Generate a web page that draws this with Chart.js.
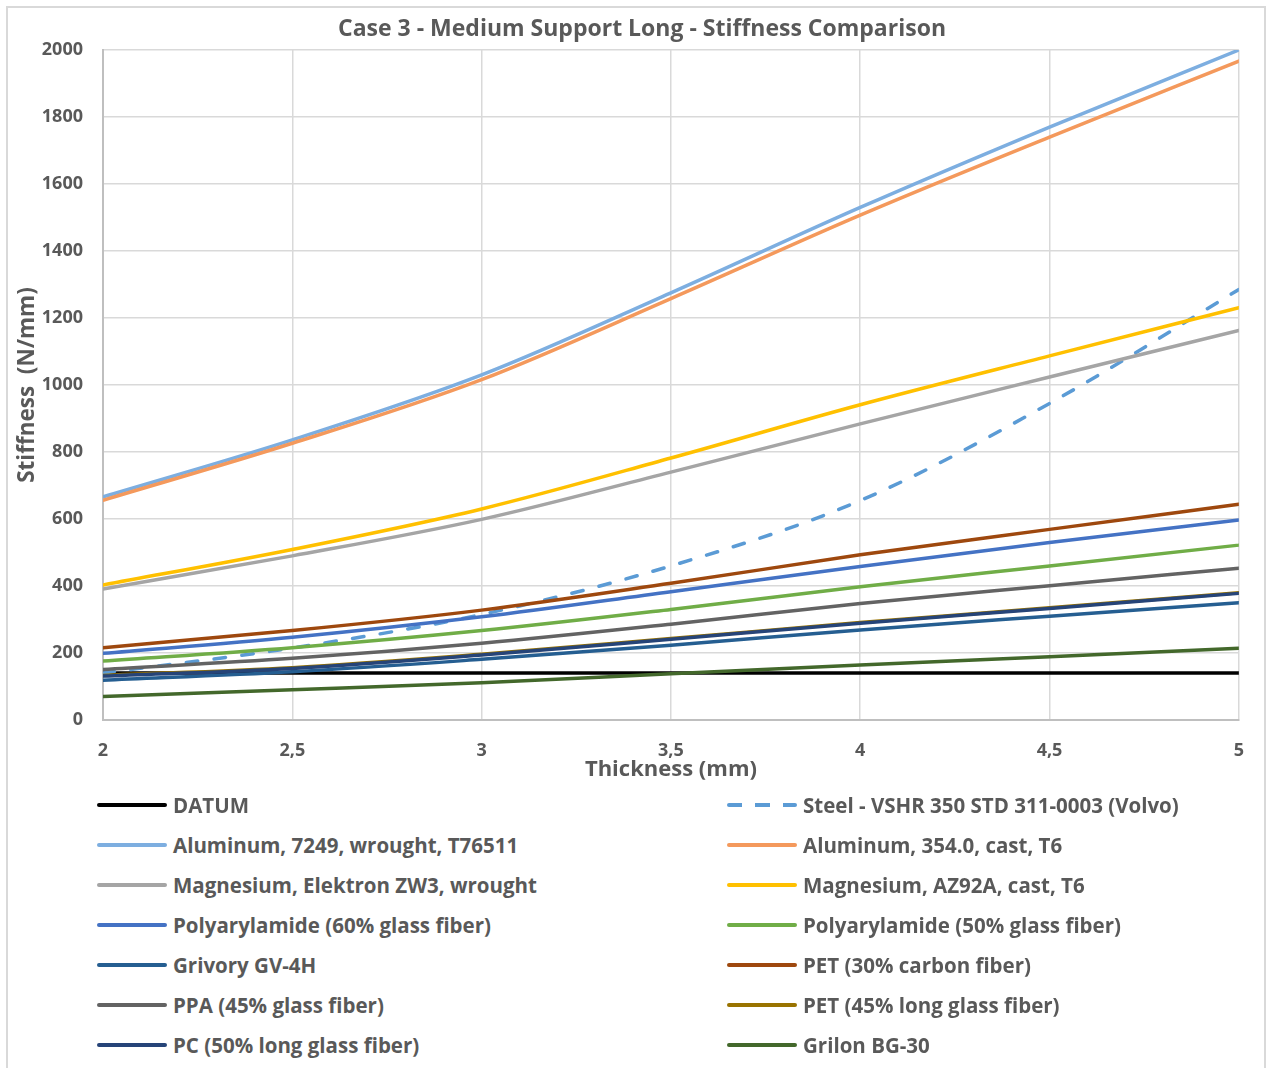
<!DOCTYPE html>
<html>
<head>
<meta charset="utf-8">
<title>Case 3 - Medium Support Long - Stiffness Comparison</title>
<script src="https://cdn.jsdelivr.net/npm/chart.js@4.4.1/dist/chart.umd.min.js"></script>
<style>
  body { margin: 0; background: #fff; }
  #wrap { position: relative; width: 1266px; height: 1068px; overflow: hidden; font-family: "Open Sans", sans-serif; }
  #frame { position: absolute; left: 6px; top: 6px; width: 1256px; height: 1100px; border: 2px solid #d9d9d9; }
  #chart { position: absolute; left: 0; top: 0; }
  .leg-item { position: absolute; height: 40px; display: flex; align-items: center; color: #595959; font-size: 20.5px; font-weight: bold; white-space: nowrap; }
  .leg-line { width: 70px; height: 4px; margin-right: 6px; border-radius: 2px; }
</style>
</head>
<body>
<div id="wrap">
  <div id="frame"></div>
  <canvas id="chart" width="1266" height="790"></canvas>
  <div id="legend"></div>
</div>
<script>
// ============================
// Dados
// ============================
const thickness = [2, 2.5, 3, 3.5, 4, 4.5, 5];
const yTicks = [0, 200, 400, 600, 800, 1000, 1200, 1400, 1600, 1800, 2000];

const datum       = [140, 140, 140, 140, 140, 140, 140];
const steel       = [140, 215, 315, 460, 655, 945, 1285];
const al7249      = [666, 836, 1030, 1275, 1530, 1770, 2000];
const al354       = [656, 826, 1016, 1258, 1507, 1740, 1967];
const mgZW3       = [391, 490, 599, 740, 884, 1024, 1163];
const mgAZ92A     = [403, 509, 630, 782, 941, 1087, 1231];
const poly60      = [199, 247, 308, 383, 458, 530, 597];
const poly50      = [176, 216, 267, 330, 398, 460, 522];
const grivory     = [119, 144, 181, 223, 269, 310, 350];
const pet30cf     = [216, 267, 328, 408, 493, 569, 644];
const ppa45       = [151, 184, 229, 286, 348, 401, 453];
const pet45lgf    = [133, 156, 196, 243, 291, 335, 380];
const pc50lgf     = [131, 154, 194, 241, 289, 333, 378];
const grilon      = [70, 90, 111, 138, 164, 189, 214];

const series = [
  { label: "DATUM", values: datum, color: "#000000" },
  { label: "Steel - VSHR 350 STD 311-0003 (Volvo)", values: steel, color: "#5b9bd5", dash: [11.5, 16.5] },
  { label: "Aluminum, 7249, wrought, T76511", values: al7249, color: "#7daee0" },
  { label: "Aluminum, 354.0, cast, T6", values: al354, color: "#f4995c" },
  { label: "Magnesium, Elektron ZW3, wrought", values: mgZW3, color: "#a5a5a5" },
  { label: "Magnesium, AZ92A, cast, T6", values: mgAZ92A, color: "#ffc000" },
  { label: "Polyarylamide (60% glass fiber)", values: poly60, color: "#4472c4" },
  { label: "Polyarylamide (50% glass fiber)", values: poly50, color: "#70ad47" },
  { label: "Grivory GV-4H", values: grivory, color: "#255e91" },
  { label: "PET (30% carbon fiber)", values: pet30cf, color: "#9e480e" },
  { label: "PPA (45% glass fiber)", values: ppa45, color: "#636363" },
  { label: "PET (45% long glass fiber)", values: pet45lgf, color: "#997300" },
  { label: "PC (50% long glass fiber)", values: pc50lgf, color: "#264478" },
  { label: "Grilon BG-30", values: grilon, color: "#43682b" }
];

const FONT = "'Open Sans', sans-serif";
const GREY_TEXT = "#595959";

// ============================
// Legenda HTML (2 colunas)
// ============================
const htmlLegend = {
  id: "htmlLegend",
  afterUpdate(chart) {
    const box = document.getElementById("legend");
    box.innerHTML = "";
    const items = chart.options.plugins.legend.labels.generateLabels(chart)
      .sort((a, b) => a.datasetIndex - b.datasetIndex);
    items.forEach((item, i) => {
      const div = document.createElement("div");
      div.className = "leg-item";
      div.style.left = (i % 2 ? 727 : 97) + "px";
      div.style.top = (785 + Math.floor(i / 2) * 40) + "px";

      const line = document.createElement("span");
      line.className = "leg-line";
      if (item.lineDash && item.lineDash.length) {
        line.style.background =
          `repeating-linear-gradient(90deg, ${item.strokeStyle} 0 15px, transparent 15px 28px)`;
      } else {
        line.style.background = item.strokeStyle;
      }

      const txt = document.createElement("span");
      txt.textContent = item.text;

      div.appendChild(line);
      div.appendChild(txt);
      box.appendChild(div);
    });
  }
};

// ============================
// Gráfico
// ============================
const ctx = document.getElementById("chart").getContext("2d");
const n = series.length;

new Chart(ctx, {
  type: "line",
  data: {
    datasets: series.map((s, i) => ({
      label: s.label,
      data: thickness.map((x, j) => ({ x: x, y: s.values[j] })),
      borderColor: s.color,
      backgroundColor: s.color,
      borderWidth: 3.5,
      borderDash: s.dash || [],
      borderCapStyle: "round",
      pointRadius: 0,
      cubicInterpolationMode: "monotone",
      fill: false,
      order: n - i
    }))
  },
  options: {
    responsive: false,
    animation: false,
    // padding esquerda maior para centrar o título como no Excel
    layout: { padding: { top: 0, left: 40, right: 22, bottom: 9 } },
    plugins: {
      legend: { display: false },
      tooltip: { enabled: false },
      title: {
        display: true,
        text: "Case 3 - Medium Support Long - Stiffness Comparison",
        color: GREY_TEXT,
        font: { family: FONT, size: 23, weight: "bold", lineHeight: 1.2 },
        padding: { top: 15.2, bottom: 7.2 }
      }
    },
    scales: {
      x: {
        type: "linear",
        min: 2,
        max: 5,
        afterFit: scale => { scale.height = 61; },
        ticks: {
          stepSize: 0.5,
          padding: 22,
          maxRotation: 0,
          color: GREY_TEXT,
          font: { family: FONT, size: 18, weight: "bold", lineHeight: 1 },
          callback: v => String(v).replace(".", ",")
        },
        grid: { color: "#d9d9d9", lineWidth: 1.5, drawTicks: false },
        border: { color: "#bfbfbf", width: 2 },
        title: {
          display: true,
          text: "Thickness (mm)",
          color: GREY_TEXT,
          font: { family: FONT, size: 22, weight: "bold", lineHeight: 1 },
          padding: { top: 0, bottom: 0 }
        }
      },
      y: {
        min: 0,
        max: 2000,
        afterFit: scale => { scale.width = 63; },
        afterBuildTicks: scale => { scale.ticks = yTicks.map(v => ({ value: v })); },
        ticks: {
          padding: 20,
          color: GREY_TEXT,
          font: { family: FONT, size: 18, weight: "bold", lineHeight: 1 },
          callback: v => String(v)
        },
        grid: { color: "#d9d9d9", lineWidth: 1.5, drawTicks: false },
        border: { color: "#bfbfbf", width: 2 },
        title: {
          display: true,
          text: "Stiffness  (N/mm)",
          color: GREY_TEXT,
          font: { family: FONT, size: 22.5, weight: "bold", lineHeight: 1 },
          padding: { top: -23.25, bottom: 0 }
        }
      }
    }
  },
  plugins: [htmlLegend]
});
</script>
</body>
</html>
